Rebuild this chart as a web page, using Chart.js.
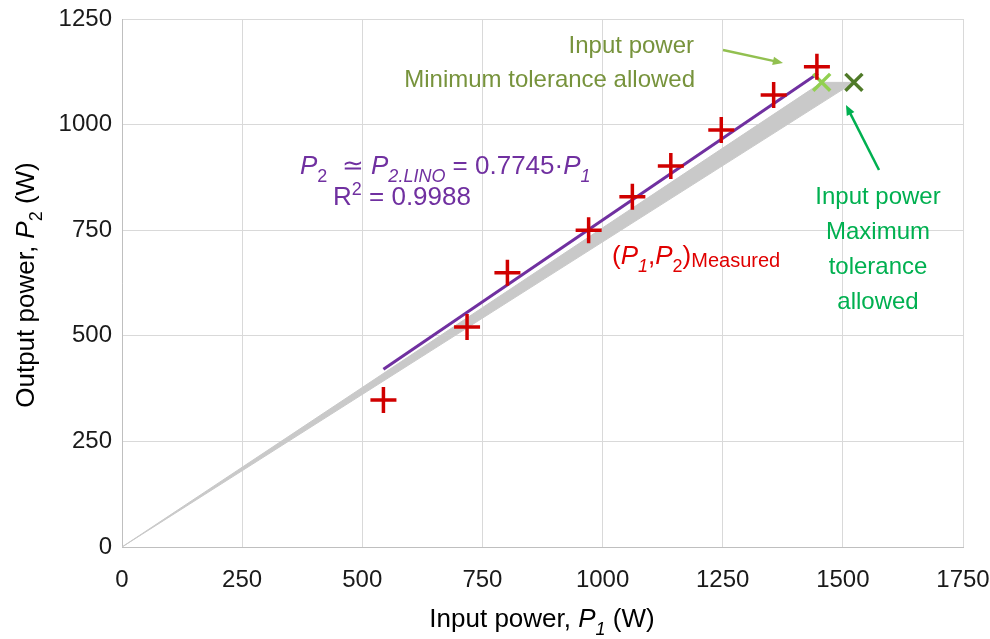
<!DOCTYPE html>
<html lang="en">
<head>
  <meta charset="UTF-8" />
  <title>Output vs input power</title>
  <script src="https://cdn.jsdelivr.net/npm/chart.js"></script>
  <style>
    html, body { margin: 0; background: #fff; }
    #wrap { width: 990px; height: 639px; }
  </style>
</head>
<body>
  <div id="wrap"><canvas id="grafico" width="990" height="639"></canvas></div>
  <script>
    // tick values
    const xTicks = [0, 250, 500, 750, 1000, 1250, 1500, 1750];
    const yTicks = [0, 250, 500, 750, 1000, 1250];

    // measured points (P1, P2)
    const measuredP1 = [544, 718, 802, 971, 1062, 1142, 1247, 1356, 1446];
    const measuredP2 = [348, 521, 649, 750, 829, 902, 987, 1070, 1137];

    // linear fit through origin, drawn over the measured range
    const fitP1 = [544, 1448];
    const fitP2 = [421, 1121];

    // tolerance limits of input power
    const minTolP1 = [1456];
    const minTolP2 = [1100];
    const maxTolP1 = [1523];
    const maxTolP2 = [1100];

    // grey band: origin -> min tolerance -> max tolerance
    const bandP1 = [0, 1456, 1523, 0];
    const bandP2 = [0, 1100, 1100, 0];

    const pts = (xs, ys) => xs.map((x, i) => ({ x: x, y: ys[i] }));
    const FONT = "'Liberation Sans', Arial, sans-serif";

    // draws a line of text made of runs (italic / sub / sup)
    function runs(ctx, x, y, parts, size, color, align) {
      const specs = parts.map(p => {
        const s = p.size || (p.sub || p.sup ? Math.round(size * 0.68) : size);
        const f = (p.i ? 'italic ' : '') + s + 'px ' + FONT;
        ctx.font = f;
        return { t: p.t, f: f, w: ctx.measureText(p.t).width, dy: p.sub ? size * 0.3 : p.sup ? -size * 0.38 : (p.dy || 0) };
      });
      const total = specs.reduce((a, s) => a + s.w, 0);
      let cx = align === 'center' ? x - total / 2 : align === 'right' ? x - total : x;
      ctx.fillStyle = color;
      ctx.textAlign = 'left';
      ctx.textBaseline = 'alphabetic';
      specs.forEach(s => {
        ctx.font = s.f;
        ctx.fillText(s.t, cx, y + s.dy);
        cx += s.w;
      });
    }

    function arrow(ctx, x1, y1, x2, y2, color) {
      const a = Math.atan2(y2 - y1, x2 - x1);
      const h = 11;
      ctx.strokeStyle = color;
      ctx.fillStyle = color;
      ctx.lineWidth = 2.5;
      ctx.beginPath();
      ctx.moveTo(x1, y1);
      ctx.lineTo(x2 - Math.cos(a) * h * 0.8, y2 - Math.sin(a) * h * 0.8);
      ctx.stroke();
      ctx.beginPath();
      ctx.moveTo(x2, y2);
      ctx.lineTo(x2 - h * Math.cos(a - 0.4), y2 - h * Math.sin(a - 0.4));
      ctx.lineTo(x2 - h * Math.cos(a + 0.4), y2 - h * Math.sin(a + 0.4));
      ctx.closePath();
      ctx.fill();
    }

    const anotacoes = {
      id: 'anotacoes',
      afterDraw(chart) {
        const ctx = chart.ctx;
        ctx.save();
        const purple = '#7030a0';
        runs(ctx, 300, 174, [
          { t: 'P', i: true }, { t: '2', sub: true }, { t: '  \u2243 ' },
          { t: 'P', i: true }, { t: '2.LINO', sub: true, i: true }, { t: ' = 0.7745\u00b7' },
          { t: 'P', i: true }, { t: '1', sub: true, i: true }
        ], 26, purple, 'left');
        runs(ctx, 333, 205, [{ t: 'R' }, { t: '2', sup: true }, { t: ' = 0.9988' }], 26, purple, 'left');

        runs(ctx, 612, 264, [
          { t: '(' }, { t: 'P', i: true }, { t: '1', sub: true, i: true }, { t: ',' },
          { t: 'P', i: true }, { t: '2', sub: true }, { t: ')' },
          { t: 'Measured', size: 20, dy: 3 }
        ], 26, '#e00000', 'left');

        const olive = '#77933c';
        runs(ctx, 694, 53, [{ t: 'Input power' }], 24, olive, 'right');
        runs(ctx, 695, 87, [{ t: 'Minimum tolerance allowed' }], 24, olive, 'right');

        const green = '#00b050';
        ['Input power', 'Maximum', 'tolerance', 'allowed'].forEach((t, k) => {
          runs(ctx, 878, 204 + k * 35, [{ t: t }], 24, green, 'center');
        });

        arrow(ctx, 723, 50, 783, 63, '#92c050');
        arrow(ctx, 879, 170, 846, 105, green);

        // axis titles
        runs(ctx, 542, 627, [{ t: 'Input power, ' }, { t: 'P', i: true }, { t: '1', sub: true, i: true }, { t: ' (W)' }], 26, '#000', 'center');
        ctx.translate(34, 285);
        ctx.rotate(-Math.PI / 2);
        runs(ctx, 0, 0, [{ t: 'Output power, ' }, { t: 'P', i: true }, { t: '2', sub: true }, { t: ' (W)' }], 26, '#000', 'center');
        ctx.restore();
      }
    };

    new Chart(document.getElementById('grafico'), {
      type: 'scatter',
      data: {
        datasets: [
          {
            label: 'band',
            data: pts(bandP1, bandP2),
            showLine: true,
            fill: 'shape',
            backgroundColor: '#c9c9c9',
            borderColor: '#c9c9c9',
            borderWidth: 1,
            pointRadius: 0,
            order: 5
          },
          {
            label: 'fit',
            data: pts(fitP1, fitP2),
            showLine: true,
            borderColor: '#7030a0',
            borderWidth: 3,
            pointRadius: 0,
            order: 3
          },
          {
            label: 'measured',
            data: pts(measuredP1, measuredP2),
            pointStyle: 'cross',
            pointRadius: 13,
            borderColor: '#d00000',
            borderWidth: 3.5,
            order: 1
          },
          {
            label: 'min',
            data: pts(minTolP1, minTolP2),
            pointStyle: 'crossRot',
            pointRadius: 12,
            borderColor: '#92d050',
            borderWidth: 3.5,
            order: 2
          },
          {
            label: 'max',
            data: pts(maxTolP1, maxTolP2),
            pointStyle: 'crossRot',
            pointRadius: 12,
            borderColor: '#4f7a28',
            borderWidth: 3.5,
            order: 2
          }
        ]
      },
      options: {
        responsive: false,
        animation: false,
        layout: { padding: { left: 0, right: 27, top: 19, bottom: 0 } },
        plugins: { legend: { display: false }, tooltip: { enabled: false } },
        scales: {
          x: {
            type: 'linear',
            min: xTicks[0],
            max: xTicks[xTicks.length - 1],
            afterBuildTicks: s => { s.ticks = xTicks.map(v => ({ value: v })); },
            afterFit: s => { s.height = 92; s.paddingLeft = 0; s.paddingRight = 0; },
            grid: { color: '#d9d9d9', drawTicks: false },
            border: { color: '#bfbfbf' },
            ticks: { padding: 19, color: '#1a1a1a', font: { family: FONT, size: 24 }, callback: v => String(v) }
          },
          y: {
            type: 'linear',
            min: yTicks[0],
            max: yTicks[yTicks.length - 1],
            afterBuildTicks: s => { s.ticks = yTicks.map(v => ({ value: v })); },
            afterFit: s => { s.width = 122; s.paddingTop = 0; s.paddingBottom = 0; },
            grid: { color: '#d9d9d9', drawTicks: false },
            border: { color: '#bfbfbf' },
            ticks: { padding: 10, color: '#1a1a1a', font: { family: FONT, size: 24 }, callback: v => String(v) }
          }
        }
      },
      plugins: [anotacoes]
    });
  </script>
</body>
</html>
